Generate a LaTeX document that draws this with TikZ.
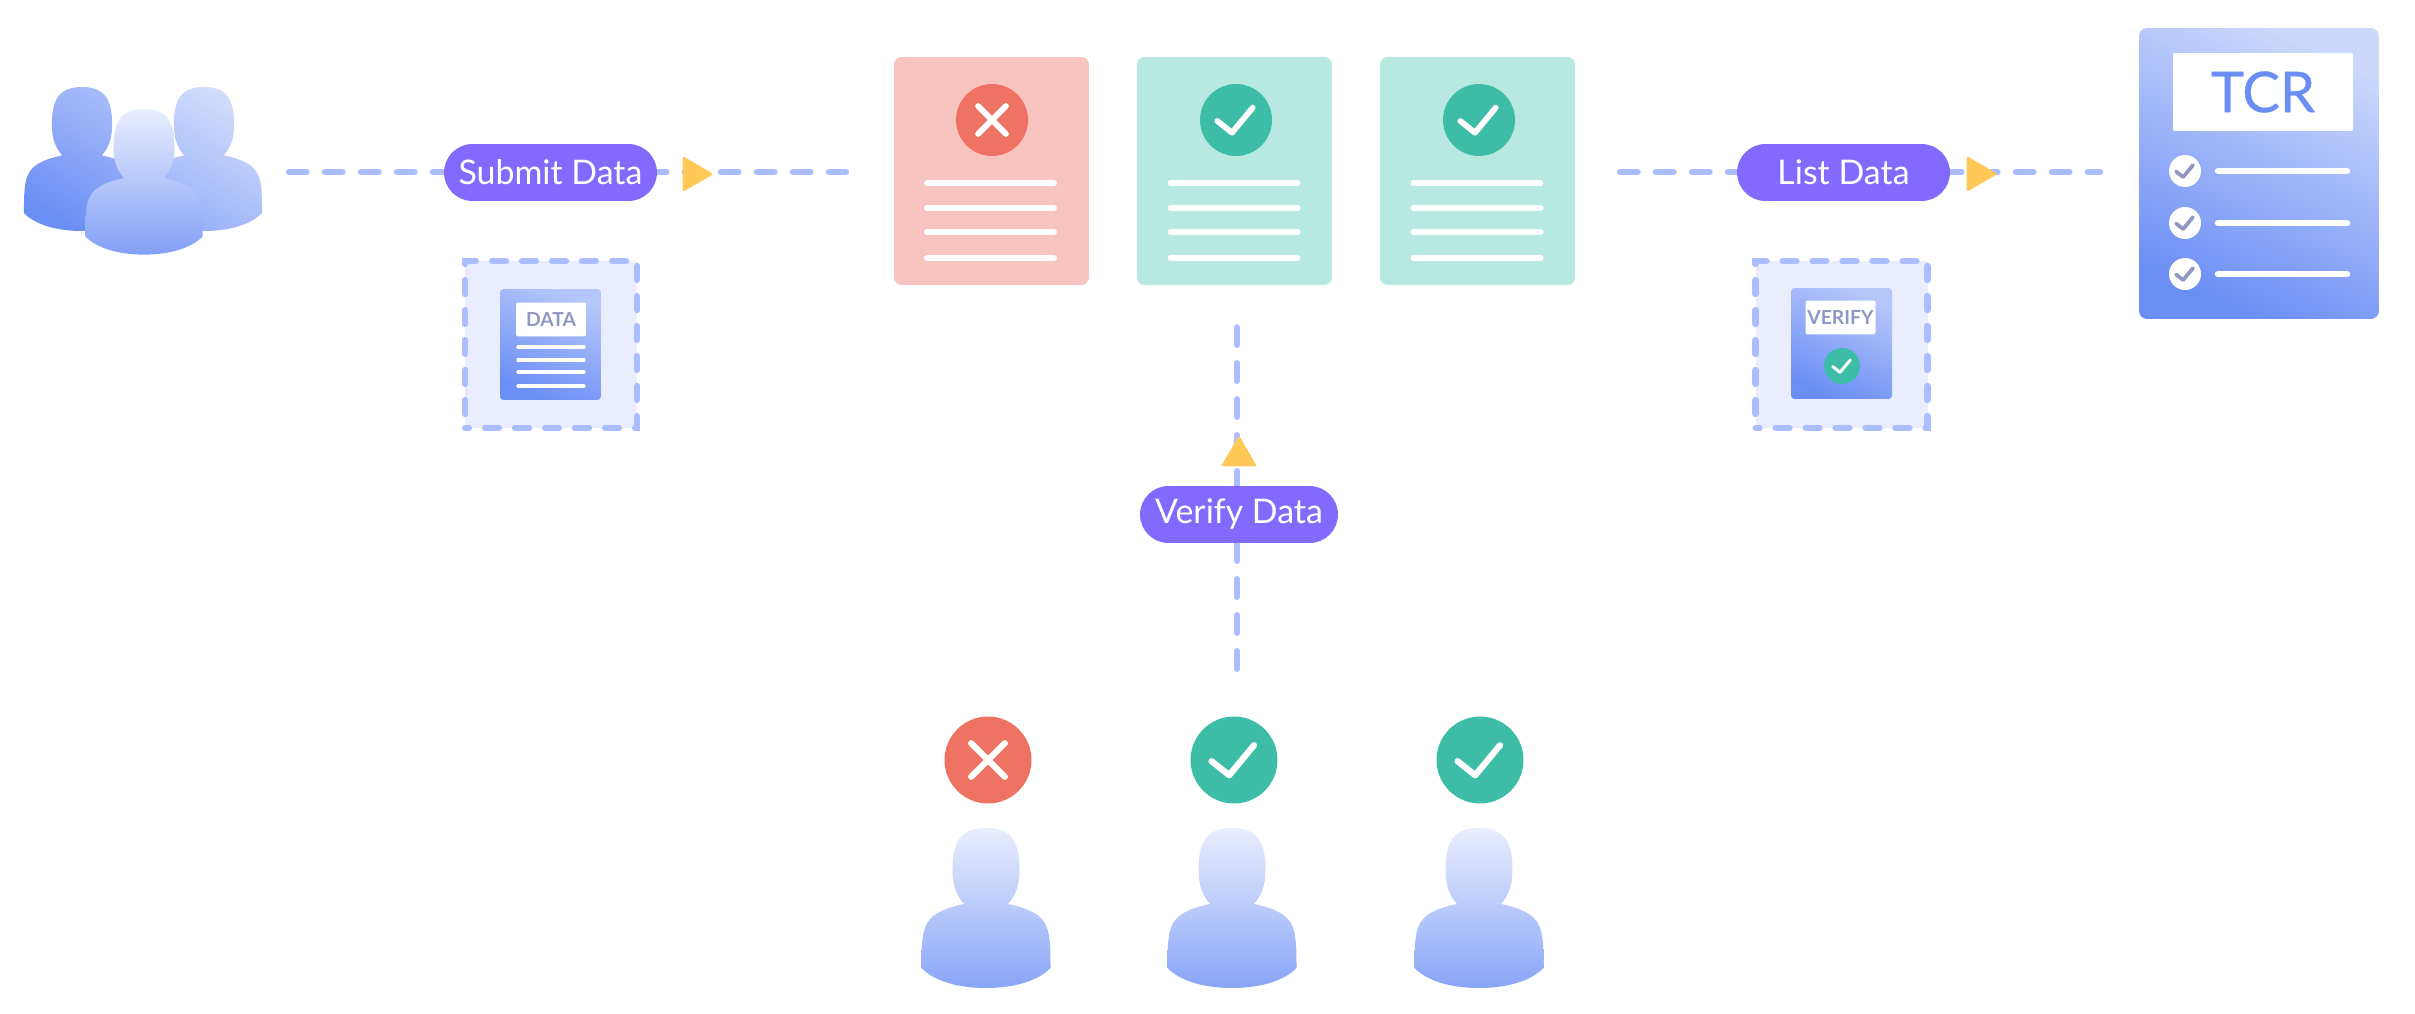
\documentclass[tikz,border=0pt]{standalone}
\usepackage{fontspec}
\setmainfont{Lato}
\newfontfamily\medfont[FakeBold=0.6]{Lato}
\usetikzlibrary{shapes.geometric,shapes.misc}
\definecolor{flowline}{HTML}{ABBDFE}
\definecolor{pill}{HTML}{8469FF}
\definecolor{tip}{HTML}{FFC857}
\definecolor{badred}{HTML}{EF7362}
\definecolor{badpale}{HTML}{F8C4BF}
\definecolor{goodteal}{HTML}{3DBDA7}
\definecolor{goodpale}{HTML}{B7E9E0}
\definecolor{boxpale}{HTML}{E9EDFD}
\definecolor{inkgrey}{HTML}{9097C0}
\definecolor{inkblue}{HTML}{6B8EF5}
\newcommand{\person}[1]{\shade[#1] (-64.5,140) .. controls (-64.5,110) and (-64,95) .. (-50,86)
  .. controls (-42,81) and (-32,78) .. (-22,76) .. controls (-29,68) and (-33.5,58) .. (-33.5,42)
  .. controls (-33.5,12) and (-24,0) .. (0,0) .. controls (24,0) and (33.5,12) .. (33.5,42)
  .. controls (33.5,58) and (29,68) .. (22,76) .. controls (32,78) and (42,81) .. (50,86)
  .. controls (64,95) and (64.5,110) .. (64.5,140) .. controls (52,153) and (28,160) .. (0,160)
  .. controls (-28,160) and (-52,153) .. (-64.5,140) -- cycle;}
\tikzset{
  tick/.pic={\draw[line cap=round,line join=round] (-18.7,1) -- (-4,12.7) -- (16.7,-12.3);},
  cross/.pic={\draw[line cap=round] (-14,-14) -- (14,14) (-14,14) -- (14,-14);}
}

\begin{document}
\begin{tikzpicture}[x=0.02cm,y=-0.02cm,
    flow/.style={draw=flowline,line width=0.13cm,line cap=round,dash pattern=on 0.35cm off 0.37cm},
    label pill/.style={rounded rectangle,fill=pill,text=white,inner sep=0pt,minimum height=1.14cm,font=\fontsize{19.3}{21}\selectfont},
    tip node/.style={isosceles triangle,isosceles triangle stretches,fill=tip,inner sep=0pt,rounded corners=0.05cm,
      minimum width=0.72cm,minimum height=0.62cm,anchor=apex},
    dash box/.style={rectangle,fill=boxpale,draw=flowline,line width=0.125cm,line cap=round,inner sep=0pt,
      minimum width=3.44cm,minimum height=3.34cm,dash pattern=on 0.28cm off 0.32cm,dash phase=0.2cm},
    mini doc/.style={rectangle,rounded corners=0.07cm,top color=inkblue!50!white,bottom color=inkblue,shading angle=-25,
      minimum width=2.02cm,minimum height=2.22cm,inner sep=0pt},
    mini label/.style={rectangle,fill=white,rounded corners=0.03cm,text=inkgrey,inner sep=0pt,minimum width=1.4cm,
      minimum height=0.68cm,font=\bfseries\fontsize{11}{12}\selectfont},
    main doc/.style={rectangle,rounded corners=0.15cm,minimum width=3.9cm,minimum height=4.56cm,inner sep=0pt},
    state/.style={circle,inner sep=0pt},
    white bar/.style={draw=white,line width=0.12cm,line cap=round}]

  \useasboundingbox (0,0) rectangle (2415,1014);

  \person{shift={(82,87)},scale=0.9,top color=inkblue!60!white,bottom color=inkblue,shading angle=-30}
  \person{shift={(204,87)},scale=0.9,top color=inkblue!30!white,bottom color=inkblue!70!white,shading angle=-30}
  \person{shift={(144,109)},scale=0.91,top color=inkblue!15!white,bottom color=inkblue!85!white}

  \coordinate (submit start) at (289,172);
  \coordinate (submit end) at (846,172);
  \coordinate (list start) at (1620,172);
  \coordinate (list end) at (2100,172);
  \coordinate (verify start) at (1237,668.75);
  \coordinate (verify end) at (1237,327.5);

  \path[flow] (submit start) -- (submit end);
  \path[flow] (list start) -- (list end);
  \path[flow] (verify start) -- (verify end);

  \node[label pill,minimum width=4.26cm] (submit) at (550.5,172.5) {Submit Data};
  \node[label pill,minimum width=4.26cm] (list) at (1843.5,172.5) {List Data};
  \node[label pill,minimum width=3.96cm] (verify) at (1239,514.5) {Verify Data};
  \node[tip node] (submit tip) at (714.5,174) {};
  \node[tip node] (list tip) at (1998.5,174) {};
  \node[tip node,shape border rotate=90] (verify tip) at (1239,434.5) {};

  \node[dash box] (data box) at (551,344.5) {};
  \node[mini doc] (data doc) at (550.5,344.5) {};
  \node[mini label] (data label) at (551,319.5) {DATA};
  \foreach \y in {347,360,372,386}
    \draw[white,line width=0.066cm,line cap=round] (518,\y) -- (584,\y);

  \node[dash box] (verify box) at (1841.5,344.5) {};
  \node[mini doc] (verify doc) at (1841.5,343.5) {};
  \node[mini label] (verify label) at (1840.5,317.5) {VERIFY};
  \node[state,fill=goodteal,minimum size=0.72cm] (verify state) at (1842,366) {};
  \pic[white,scale=0.5,line width=0.06cm] at (verify state) {tick};

  \node[main doc,fill=badpale] (doc bad) at (991.5,171) {};
  \node[main doc,fill=goodpale] (doc good a) at (1234.5,171) {};
  \node[main doc,fill=goodpale] (doc good b) at (1477.5,171) {};
  \foreach \dx in {0,243.5,486.5}
    \foreach \y in {183,208,232,258}
      \draw[white bar] (927+\dx,\y) -- (1054+\dx,\y);
  \node[state,fill=badred,minimum size=1.44cm] (doc state a) at (992,120) {};
  \node[state,fill=goodteal,minimum size=1.44cm] (doc state b) at (1236,120) {};
  \node[state,fill=goodteal,minimum size=1.44cm] (doc state c) at (1479,120) {};
  \pic[white,line width=0.115cm] at (doc state a) {cross};
  \pic[white,line width=0.115cm] at (doc state b) {tick};
  \pic[white,line width=0.115cm] at (doc state c) {tick};

  \node[main doc,rounded corners=0.16cm,top color=inkblue!35!white,bottom color=inkblue,shading angle=-25,
    minimum width=4.8cm,minimum height=5.82cm] (tcr) at (2259,173.5) {};
  \node[rectangle,fill=white,rounded corners=0.04cm,text=inkblue,inner sep=0pt,minimum width=3.6cm,minimum height=1.56cm,
    font=\medfont\fontsize{32}{34}\selectfont] (tcr label) at (2263,92) {TCR};
  \foreach \y in {171,223,274} {
    \node[state,fill=white,minimum size=0.64cm] (row \y) at (2185,\y) {};
    \pic[inkgrey,scale=0.48,line width=0.075cm] at (row \y) {tick};
    \draw[white,line width=0.13cm,line cap=round] (2218,\y) -- (2347,\y);
  }

  \node[state,fill=badred,minimum size=1.74cm] (vote state a) at (988,760) {};
  \node[state,fill=goodteal,minimum size=1.74cm] (vote state b) at (1234,760) {};
  \node[state,fill=goodteal,minimum size=1.74cm] (vote state c) at (1480,760) {};
  \pic[white,scale=1.2,line width=0.125cm] at (vote state a) {cross};
  \pic[white,scale=1.2,line width=0.125cm] at (vote state b) {tick};
  \pic[white,scale=1.2,line width=0.125cm] at (vote state c) {tick};

  \foreach \x in {986,1232,1479} {
    \person{shift={(\x,828)},top color=inkblue!15!white,bottom color=inkblue!80!white}
  }

\end{tikzpicture}
\end{document}
